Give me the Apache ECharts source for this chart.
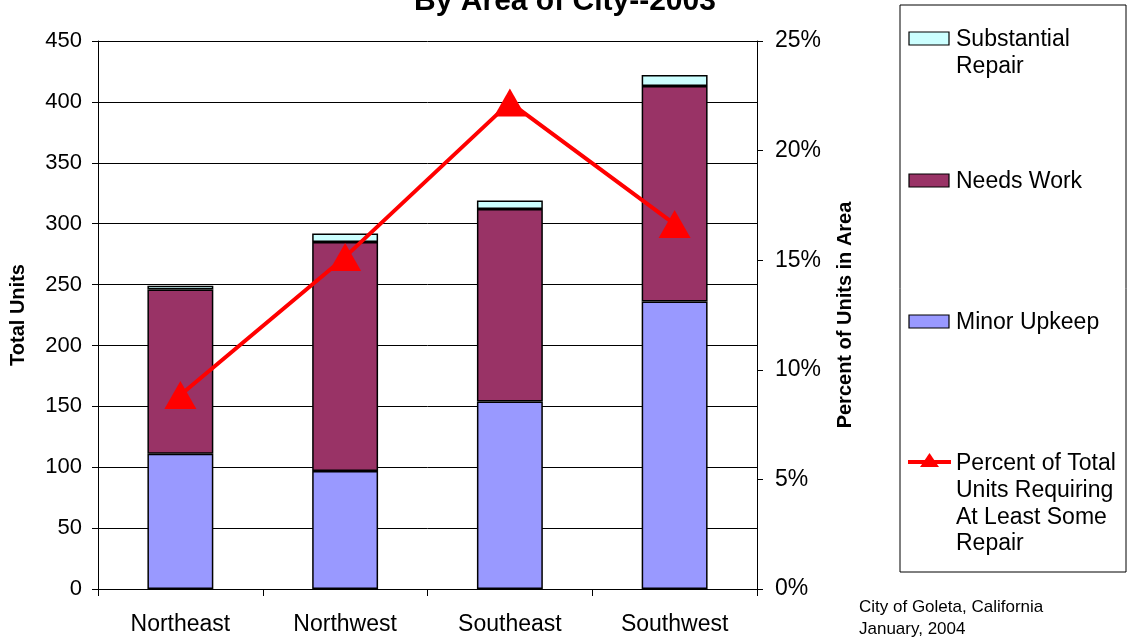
<!DOCTYPE html>
<html>
<head>
<meta charset="utf-8">
<script src="https://cdn.jsdelivr.net/npm/echarts@6/dist/echarts.min.js"></script>
<style>
  html, body { margin: 0; padding: 0; background: #fff; }
  #chart { width: 1132px; height: 637px; }
</style>
</head>
<body>
<div id="chart"></div>
<script>
// Housing condition by area of the city, 2003
const areas = ['Northeast', 'Northwest', 'Southeast', 'Southwest'];
const minorUpkeep = [111, 97, 154, 236];
const needsWork = [135, 188, 158, 177];
const substantialRepair = [3, 7, 7, 9];
const pctRequiringRepair = [8.85, 15.15, 22.2, 16.65];
const unitTicks = [0, 50, 100, 150, 200, 250, 300, 350, 400, 450];
const pctTicks = [0, 5, 10, 15, 20, 25];

const FONT = 'Liberation Sans, Arial, sans-serif';
const chart = echarts.init(document.getElementById('chart'), null, { renderer: 'canvas' });

const barBase = {
  type: 'bar',
  stack: 'units',
  barWidth: '40%',
  yAxisIndex: 0,
  itemStyle: { borderColor: '#000', borderWidth: 1.5 },
  emphasis: { disabled: true },
  z: 3
};

// Legend box drawn as graphic elements
const legendX = 900, legendY = 5, legendW = 226, legendH = 567;
const legendItems = [
  { y: 38, color: '#CCFFFF', text: 'Substantial\nRepair', kind: 'box' },
  { y: 180, color: '#993366', text: 'Needs Work', kind: 'box' },
  { y: 321, color: '#9999FF', text: 'Minor Upkeep', kind: 'box' },
  { y: 462, color: '#FF0000', text: 'Percent of Total\nUnits Requiring\nAt Least Some\nRepair', kind: 'line' }
];
const legendGraphics = [{
  type: 'rect',
  shape: { x: legendX, y: legendY, width: legendW, height: legendH },
  style: { fill: '#fff', stroke: '#000', lineWidth: 1 },
  z: 10
}];
legendItems.forEach(it => {
  if (it.kind === 'box') {
    legendGraphics.push({
      type: 'rect',
      shape: { x: 909, y: it.y - 6, width: 40, height: 13 },
      style: { fill: it.color, stroke: '#000', lineWidth: 1.2 },
      z: 11
    });
  } else {
    legendGraphics.push({
      type: 'line',
      shape: { x1: 908, y1: it.y, x2: 951, y2: it.y },
      style: { stroke: it.color, lineWidth: 4 },
      z: 11
    });
    legendGraphics.push({
      type: 'polygon',
      shape: { points: [[929.5, it.y - 9], [920, it.y + 5], [939, it.y + 5]] },
      style: { fill: it.color },
      z: 12
    });
  }
  legendGraphics.push({
    type: 'text',
    x: 956, y: it.y - 11.5,
    style: {
      text: it.text, font: '23px ' + FONT, fill: '#000',
      textAlign: 'left', textVerticalAlign: 'top', lineHeight: 26.7
    },
    z: 11
  });
});

chart.setOption({
  animation: false,
  backgroundColor: '#fff',
  grid: { left: 97, right: 375, top: 41, bottom: 48, containLabel: false },
  xAxis: {
    type: 'category',
    data: areas,
    axisLine: { lineStyle: { color: '#000', width: 1 } },
    axisTick: { show: true, alignWithLabel: false, length: 7, lineStyle: { color: '#000' } },
    axisLabel: { color: '#000', fontSize: 23, fontFamily: FONT, margin: 24 }
  },
  yAxis: [
    {
      type: 'value', min: 0, max: 450, interval: 50,
      name: 'Total Units', nameLocation: 'middle', nameGap: 70, nameRotate: 90,
      nameTextStyle: { color: '#000', fontSize: 20, fontWeight: 'bold', fontFamily: FONT },
      axisLine: { show: true, lineStyle: { color: '#000', width: 1 } },
      axisTick: { show: true, length: 6, lineStyle: { color: '#000' } },
      axisLabel: {
        color: '#000', fontSize: 22, fontFamily: FONT, margin: 16,
        formatter: v => unitTicks.includes(v) ? String(v) : ''
      },
      splitLine: { show: true, lineStyle: { color: '#000', width: 1 } }
    },
    {
      type: 'value', min: 0, max: 25, interval: 5, position: 'right',
      name: 'Percent of Units in Area', nameLocation: 'middle', nameGap: 78, nameRotate: 90,
      nameTextStyle: { color: '#000', fontSize: 20, fontWeight: 'bold', fontFamily: FONT },
      axisLine: { show: true, lineStyle: { color: '#000', width: 1 } },
      axisTick: { show: true, length: 6, lineStyle: { color: '#000' } },
      axisLabel: {
        color: '#000', fontSize: 23, fontFamily: FONT, margin: 18,
        formatter: v => pctTicks.includes(v) ? v + '%' : ''
      },
      splitLine: { show: false }
    }
  ],
  series: [
    Object.assign({}, barBase, { name: 'Minor Upkeep', data: minorUpkeep, itemStyle: Object.assign({}, barBase.itemStyle, { color: '#9999FF' }) }),
    Object.assign({}, barBase, { name: 'Needs Work', data: needsWork, itemStyle: Object.assign({}, barBase.itemStyle, { color: '#993366' }) }),
    Object.assign({}, barBase, { name: 'Substantial Repair', data: substantialRepair, itemStyle: Object.assign({}, barBase.itemStyle, { color: '#CCFFFF' }) }),
    {
      type: 'line',
      name: 'Percent of Total Units Requiring At Least Some Repair',
      yAxisIndex: 1,
      data: pctRequiringRepair,
      lineStyle: { color: '#FF0000', width: 4 },
      itemStyle: { color: '#FF0000' },
      symbol: 'triangle',
      symbolSize: [32, 28],
      showAllSymbol: true,
      emphasis: { disabled: true },
      z: 5
    }
  ],
  graphic: legendGraphics.concat([
    {
      type: 'text', x: 565, y: 17,
      style: {
        text: 'By Area of City--2003', font: 'bold 30px ' + FONT, fill: '#000',
        textAlign: 'center', textVerticalAlign: 'bottom'
      }
    },
    {
      type: 'text', x: 859, y: 596,
      style: {
        text: 'City of Goleta, California\nJanuary, 2004', font: '17px ' + FONT, fill: '#000',
        textAlign: 'left', textVerticalAlign: 'top', lineHeight: 22
      }
    }
  ])
});
</script>
</body>
</html>
